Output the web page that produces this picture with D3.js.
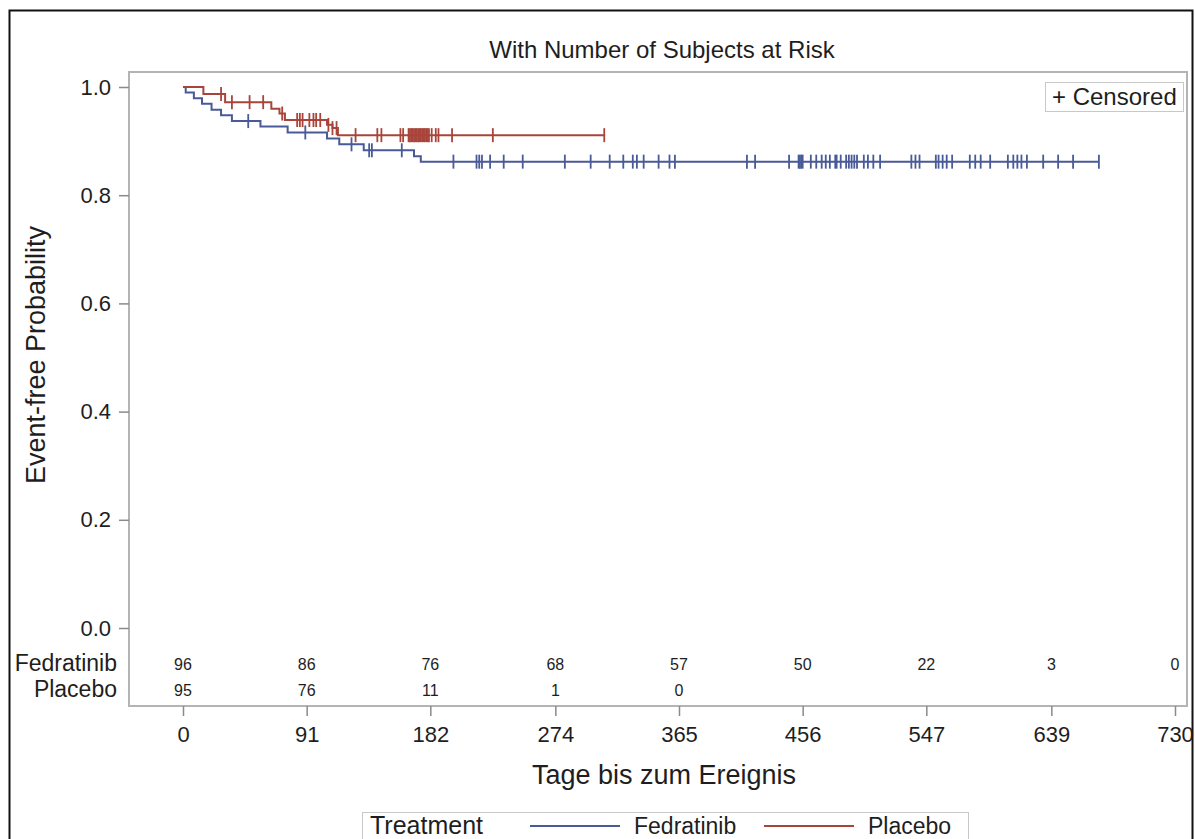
<!DOCTYPE html>
<html>
<head>
<meta charset="utf-8">
<script src="https://cdn.jsdelivr.net/npm/d3@7"></script>
<style>
  body { margin: 0; background: #fff; }
  svg text { font-family: "Liberation Sans", Arial, sans-serif; fill: #1e1e1e; }
</style>
</head>
<body>
<script>
// ----- DATA -----
const groups = ["Fedratinib", "Placebo"];
const xTicks = [0, 91, 182, 274, 365, 456, 547, 639, 730];
const yTicks = [0, 0.2, 0.4, 0.6, 0.8, 1.0];

// step times (days) and event-free probability after each step
const fedTimes = [0, 2, 8, 14, 21, 28, 36, 57, 77, 106, 115, 133, 170, 175];
const fedSurv = [1, 0.990, 0.979, 0.969, 0.958, 0.948, 0.937, 0.927, 0.916, 0.905, 0.894, 0.883, 0.872, 0.862];
const plaTimes = [0, 15, 31, 65, 71, 75, 106, 110, 114];
const plaSurv = [1, 0.987, 0.972, 0.960, 0.951, 0.939, 0.930, 0.924, 0.911];

// censored times
const fedCens = [48, 90, 124, 137, 139, 161, 199, 216, 218, 220, 226, 236, 250, 281, 300, 314, 324, 331, 334, 339,
  350, 358, 362, 415, 421, 446, 453, 454, 455, 456, 462, 466, 470, 473, 476, 480, 481, 484, 488, 490, 492, 494,
  496, 501, 504, 508, 513, 536, 539, 542, 554, 556, 559, 562, 566, 579, 583, 587, 594, 607, 611, 614, 617, 621,
  633, 644, 655, 674];
const plaCens = [28, 36, 49, 59, 73, 84, 86, 88, 93, 96, 98, 101, 107, 110, 113, 127, 143, 146, 160, 162,
  166, 167, 168, 169, 170, 171, 172, 173, 174, 175, 176, 177, 178, 179, 180, 181, 183, 186, 188, 198, 228, 310];

// numbers at risk at each x tick
const fedRisk = [96, 86, 76, 68, 57, 50, 22, 3, 0];
const plaRisk = [95, 76, 11, 1, 0];

const colors = { Fedratinib: "#485a97", Placebo: "#a8443a" };

// ----- SVG -----
const W = 1195, H = 839;
const svg = d3.select("body").append("svg").attr("width", W).attr("height", H);

// outer border
svg.append("rect")
  .attr("x", 9.5).attr("y", 10.5).attr("width", 1183).attr("height", 860)
  .attr("fill", "none").attr("stroke", "#111").attr("stroke-width", 2);

// ----- SCALES -----
const x = d3.scaleLinear().domain([0, 730]).range([183, 1175]);
const y = d3.scaleLinear().domain([0, 1]).range([628, 87]);

// plot frame (curves + risk table)
const frame = { left: 129, top: 72, right: 1187, bottom: 706 };
svg.append("rect")
  .attr("x", frame.left).attr("y", frame.top)
  .attr("width", frame.right - frame.left).attr("height", frame.bottom - frame.top)
  .attr("fill", "none").attr("stroke", "#b4b4b4").attr("stroke-width", 2);

// title
svg.append("text")
  .attr("x", 662).attr("y", 58)
  .attr("text-anchor", "middle")
  .style("font-size", "24px")
  .text("With Number of Subjects at Risk");

// ----- AXES -----
const yAxis = svg.append("g")
  .attr("transform", "translate(" + frame.left + ",0)")
  .call(d3.axisLeft(y).tickValues(yTicks).tickFormat(d3.format(".1f")).tickSize(10).tickPadding(8));
yAxis.select(".domain").remove();
yAxis.selectAll("line").attr("stroke", "#8a8a8a").attr("stroke-width", 1.5);
yAxis.selectAll("text").style("font-size", "22px").attr("fill", "#1e1e1e");

const xAxis = svg.append("g")
  .attr("transform", "translate(0," + frame.bottom + ")")
  .call(d3.axisBottom(x).tickValues(xTicks).tickSize(10).tickPadding(10));
xAxis.select(".domain").remove();
xAxis.selectAll("line").attr("stroke", "#8a8a8a").attr("stroke-width", 1.5);
xAxis.selectAll("text").style("font-size", "22px").attr("fill", "#1e1e1e");

svg.append("text")
  .attr("x", 664).attr("y", 784)
  .attr("text-anchor", "middle")
  .style("font-size", "27px")
  .text("Tage bis zum Ereignis");

svg.append("text")
  .attr("transform", "translate(45,355) rotate(-90)")
  .attr("text-anchor", "middle")
  .style("font-size", "27px")
  .text("Event-free Probability");

// ----- CURVES -----
const series = [
  { name: "Fedratinib", times: fedTimes, surv: fedSurv, cens: fedCens },
  { name: "Placebo", times: plaTimes, surv: plaSurv, cens: plaCens }
];

const line = d3.line()
  .x(d => x(d[0]))
  .y(d => y(d[1]))
  .curve(d3.curveStepAfter);

function survAt(s, t) {
  const i = d3.bisectRight(s.times, t) - 1;
  return s.surv[Math.max(0, i)];
}

series.forEach(s => {
  const pts = s.times.map((t, i) => [t, s.surv[i]]);
  const last = d3.max(s.cens);
  pts.push([last, s.surv[s.surv.length - 1]]);

  svg.append("path")
    .datum(pts)
    .attr("fill", "none")
    .attr("stroke", colors[s.name])
    .attr("stroke-width", 2)
    .attr("d", line);

  svg.append("g").selectAll("line")
    .data(s.cens)
    .enter()
    .append("line")
    .attr("x1", d => x(d)).attr("x2", d => x(d))
    .attr("y1", d => y(survAt(s, d)) - 7)
    .attr("y2", d => y(survAt(s, d)) + 7)
    .attr("stroke", colors[s.name])
    .attr("stroke-width", 1.8);
});

// censored legend
svg.append("rect")
  .attr("x", 1045.5).attr("y", 82.5).attr("width", 138).attr("height", 29)
  .attr("fill", "#fff").attr("stroke", "#c8c8c8");
svg.append("text")
  .attr("x", 1052).attr("y", 105)
  .style("font-size", "24px")
  .text("+ Censored");

// ----- RISK TABLE -----
const riskRows = [
  { name: "Fedratinib", vals: fedRisk, y: 671 },
  { name: "Placebo", vals: plaRisk, y: 697 }
];

riskRows.forEach(r => {
  svg.append("text")
    .attr("x", 117).attr("y", r.y)
    .attr("text-anchor", "end")
    .style("font-size", "23px")
    .text(r.name);

  svg.append("g").selectAll("text")
    .data(r.vals)
    .enter()
    .append("text")
    .attr("x", (d, i) => x(xTicks[i]))
    .attr("y", r.y - 1)
    .attr("text-anchor", "middle")
    .style("font-size", "16px")
    .text(d => d);
});

// ----- LEGEND -----
const lg = svg.append("g");
lg.append("rect")
  .attr("x", 362.5).attr("y", 812.5).attr("width", 606).attr("height", 60)
  .attr("fill", "#fff").attr("stroke", "#c8c8c8");
lg.append("text")
  .attr("x", 370).attr("y", 834)
  .style("font-size", "25px")
  .text("Treatment");

const legendItems = [
  { name: "Fedratinib", x0: 530 },
  { name: "Placebo", x0: 764 }
];
legendItems.forEach(it => {
  lg.append("line")
    .attr("x1", it.x0).attr("x2", it.x0 + 90)
    .attr("y1", 826).attr("y2", 826)
    .attr("stroke", colors[it.name]).attr("stroke-width", 2);
  lg.append("text")
    .attr("x", it.x0 + 104).attr("y", 834)
    .style("font-size", "23px")
    .text(it.name);
});
</script>
</body>
</html>
